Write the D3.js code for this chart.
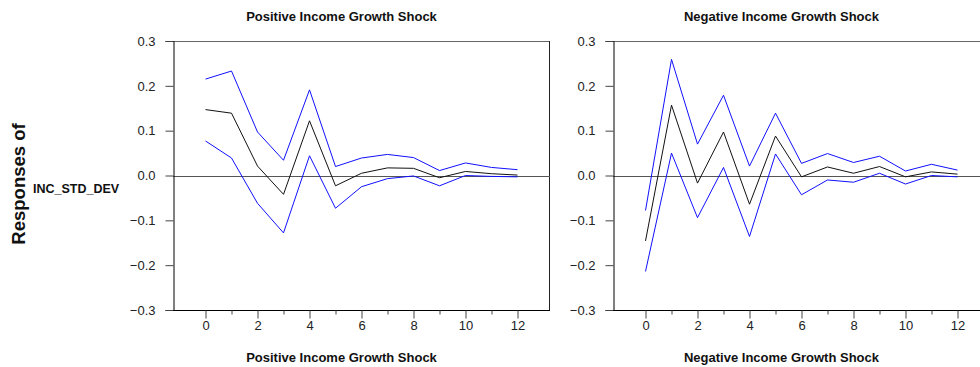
<!DOCTYPE html>
<html>
<head>
<meta charset="utf-8">
<script src="https://cdn.jsdelivr.net/npm/d3@7"></script>
<style>
  html, body { margin: 0; padding: 0; background: #fff; }
  svg { display: block; font-family: "Liberation Sans", Arial, sans-serif; }
</style>
</head>
<body>
<svg id="chart" width="980" height="367"></svg>
<script>
// Impulse response periods
const periods = [0, 1, 2, 3, 4, 5, 6, 7, 8, 9, 10, 11, 12];

// Positive income growth shock: response and confidence bands
const posResponse = [0.147, 0.139, 0.021, -0.042, 0.122, -0.023, 0.005, 0.017, 0.016, -0.005, 0.009, 0.004, 0.001];
const posUpper    = [0.215, 0.233, 0.097, 0.034, 0.191, 0.020, 0.039, 0.047, 0.040, 0.011, 0.028, 0.018, 0.013];
const posLower    = [0.077, 0.039, -0.062, -0.128, 0.044, -0.073, -0.025, -0.007, -0.001, -0.023, 0.000, -0.002, -0.003];

// Negative income growth shock: response and confidence bands
const negResponse = [-0.146, 0.157, -0.017, 0.097, -0.064, 0.088, -0.003, 0.019, 0.005, 0.020, -0.003, 0.008, 0.003];
const negUpper    = [-0.078, 0.259, 0.070, 0.179, 0.021, 0.139, 0.027, 0.049, 0.029, 0.043, 0.010, 0.025, 0.012];
const negLower    = [-0.214, 0.050, -0.094, 0.018, -0.136, 0.048, -0.043, -0.010, -0.015, 0.005, -0.019, 0.000, -0.003];

const yTicks = [-0.3, -0.2, -0.1, 0.0, 0.1, 0.2, 0.3];
const panelTitles = ["Positive Income Growth Shock", "Negative Income Growth Shock"];
const responseLabel = "Responses of";
const variableLabel = "INC_STD_DEV";

const panels = [
  { title: panelTitles[0], resp: posResponse, up: posUpper, lo: posLower, left: 173 },
  { title: panelTitles[1], resp: negResponse, up: negUpper, lo: negLower, left: 613 }
];

const svg = d3.select("#chart");
const plotTop = 41, plotBottom = 310, plotWidth = 377;
const tickFont = 13, titleFont = 13;

// Row labels on the far left
svg.append("text")
  .attr("transform", "translate(25,184) rotate(-90)")
  .attr("text-anchor", "middle")
  .attr("font-size", 18.5).attr("font-weight", "bold").attr("fill", "#111")
  .text(responseLabel);
svg.append("text")
  .attr("x", 33).attr("y", 193)
  .attr("font-size", 12.5).attr("font-weight", "bold").attr("fill", "#111")
  .text(variableLabel);

panels.forEach(p => {
  const x = d3.scaleLinear().domain([-1.25, 13.25]).range([p.left, p.left + plotWidth]);
  const y = d3.scaleLinear().domain([-0.3, 0.3]).range([plotBottom, plotTop]);
  const g = svg.append("g");

  // Frame: top and right edges
  g.append("line").attr("x1", p.left).attr("x2", p.left + plotWidth).attr("y1", plotTop + 0.5).attr("y2", plotTop + 0.5)
    .attr("stroke", "#666").attr("stroke-width", 1);
  g.append("line").attr("x1", p.left + plotWidth - 0.5).attr("x2", p.left + plotWidth - 0.5).attr("y1", plotTop).attr("y2", plotBottom)
    .attr("stroke", "#222").attr("stroke-width", 1);

  // Zero reference line
  g.append("line").attr("x1", p.left).attr("x2", p.left + plotWidth)
    .attr("y1", Math.round(y(0)) + 0.5).attr("y2", Math.round(y(0)) + 0.5)
    .attr("stroke", "#555").attr("stroke-width", 1);

  // Y axis
  const yAxis = d3.axisLeft(y).tickValues(yTicks).tickFormat(d3.format(".1f")).tickSize(8).tickPadding(10);
  const ya = g.append("g").attr("transform", `translate(${p.left + 0.5},0)`).call(yAxis);
  ya.select(".domain").attr("stroke", "#000");
  ya.selectAll(".tick line").attr("stroke", "#444");
  ya.selectAll(".tick text").attr("font-size", tickFont).attr("fill", "#222")
    .attr("font-family", "Liberation Sans, Arial, sans-serif");

  // X axis: labelled major ticks on even periods, short ticks on odd periods
  const xAxis = d3.axisBottom(x).tickValues(periods)
    .tickSize(8).tickPadding(2)
    .tickFormat(d => d % 2 === 0 ? d : "");
  const xa = g.append("g").attr("transform", `translate(0,${plotBottom + 0.5})`).call(xAxis);
  xa.select(".domain").attr("stroke", "#000").attr("d", `M${p.left},0H${p.left + plotWidth}`);
  xa.selectAll(".tick line").attr("stroke", "#444").attr("y2", d => d % 2 === 0 ? 8 : 4);
  xa.selectAll(".tick text").attr("font-size", tickFont).attr("fill", "#222")
    .attr("font-family", "Liberation Sans, Arial, sans-serif");

  // Response and bands
  const line = d3.line().x((d, i) => x(periods[i])).y(d => y(d));
  [[p.up, "#1010ff"], [p.lo, "#1010ff"], [p.resp, "#111"]].forEach(([vals, col]) => {
    g.append("path").datum(vals).attr("d", line)
      .attr("fill", "none").attr("stroke", col).attr("stroke-width", 1);
  });

  // Titles above and below the panel
  const cx = p.left + plotWidth / 2 - 20;
  g.append("text").attr("x", cx).attr("y", 21).attr("text-anchor", "middle")
    .attr("font-size", titleFont).attr("font-weight", "bold").attr("fill", "#111").text(p.title);
  g.append("text").attr("x", cx).attr("y", 362).attr("text-anchor", "middle")
    .attr("font-size", titleFont).attr("font-weight", "bold").attr("fill", "#111").text(p.title);
});
</script>
</body>
</html>
